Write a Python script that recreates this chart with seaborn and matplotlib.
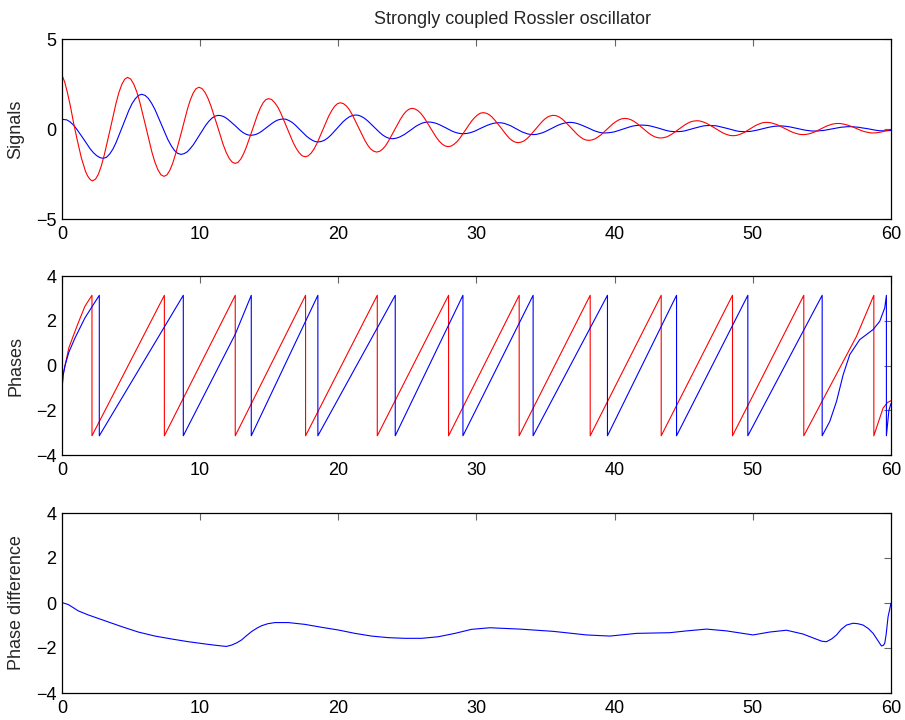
import matplotlib
matplotlib.use("Agg")
import matplotlib.pyplot as plt
import seaborn as sns
import pandas as pd

# ---- signals of the two oscillators (time, amplitude) ----
red_t = [0, 0.2, 0.4, 0.6, 0.85, 1.1, 1.4, 1.7, 1.85, 2.0, 2.12, 2.22,
         2.43, 2.64, 2.85, 3.06, 3.49, 3.91, 4.12, 4.33, 4.54, 4.75,
         4.97, 5.19, 5.41, 5.63, 6.07, 6.50, 6.72, 6.94, 7.16, 7.38,
         7.59, 7.80, 8.01, 8.22, 8.65, 9.07, 9.28, 9.49, 9.70, 9.91,
         10.13, 10.35, 10.57, 10.79, 11.23, 11.66, 11.88, 12.10, 12.32, 12.54,
         12.74, 12.94, 13.14, 13.34, 13.75, 14.15, 14.35, 14.55, 14.75, 14.95,
         15.17, 15.39, 15.62, 15.84, 16.28, 16.72, 16.95, 17.17, 17.39, 17.61,
         17.82, 18.03, 18.25, 18.46, 18.88, 19.30, 19.52, 19.73, 19.94, 20.15,
         20.37, 20.59, 20.81, 21.02, 21.46, 21.90, 22.11, 22.33, 22.55, 22.77,
         22.99, 23.20, 23.42, 23.63, 24.06, 24.49, 24.71, 24.92, 25.14, 25.35,
         25.57, 25.78, 26.00, 26.22, 26.65, 27.08, 27.30, 27.52, 27.73, 27.95,
         28.16, 28.37, 28.59, 28.80, 29.22, 29.64, 29.86, 30.07, 30.28, 30.49,
         30.70, 30.91, 31.12, 31.33, 31.76, 32.18, 32.39, 32.60, 32.81, 33.02,
         33.23, 33.44, 33.65, 33.86, 34.29, 34.71, 34.92, 35.13, 35.34, 35.55,
         35.77, 35.98, 36.20, 36.41, 36.84, 37.27, 37.49, 37.70, 37.92, 38.13,
         38.35, 38.57, 38.78, 39.00, 39.44, 39.87, 40.09, 40.31, 40.52, 40.74,
         40.96, 41.17, 41.39, 41.60, 42.03, 42.46, 42.68, 42.89, 43.11, 43.32,
         43.54, 43.76, 43.97, 44.19, 44.63, 45.06, 45.28, 45.50, 45.71, 45.93,
         46.15, 46.37, 46.59, 46.81, 47.26, 47.70, 47.92, 48.14, 48.36, 48.58,
         48.78, 48.98, 49.18, 49.38, 49.79, 50.19, 50.39, 50.59, 50.79, 50.99,
         51.21, 51.43, 51.65, 51.87, 52.32, 52.76, 52.98, 53.20, 53.42, 53.64,
         53.85, 54.06, 54.27, 54.48, 54.91, 55.33, 55.54, 55.75, 55.96, 56.17,
         56.38, 56.59, 56.80, 57.01, 57.44, 57.86, 58.07, 58.28, 58.49, 58.70,
         58.91, 59.13, 59.34, 59.55, 60.0]
red_v = [3.0, 2.6, 2.0, 1.3, 0.3, -0.6, -1.6, -2.35, -2.6, -2.77, -2.85, -2.88,
         -2.78, -2.50, -2.04, -1.44, -0.01, 1.43, 2.03, 2.48, 2.77, 2.87,
         2.78, 2.50, 2.07, 1.50, 0.12, -1.26, -1.83, -2.26, -2.54, -2.63,
         -2.55, -2.30, -1.91, -1.39, -0.16, 1.08, 1.60, 1.99, 2.24, 2.32,
         2.25, 2.04, 1.70, 1.26, 0.21, -0.85, -1.29, -1.63, -1.84, -1.91,
         -1.85, -1.67, -1.38, -1.01, -0.11, 0.79, 1.16, 1.45, 1.63, 1.69,
         1.64, 1.47, 1.22, 0.88, 0.08, -0.73, -1.07, -1.32, -1.49, -1.54,
         -1.49, -1.34, -1.10, -0.79, -0.04, 0.71, 1.02, 1.26, 1.41, 1.46,
         1.41, 1.28, 1.06, 0.78, 0.09, -0.60, -0.88, -1.10, -1.23, -1.28,
         -1.24, -1.12, -0.93, -0.67, -0.07, 0.54, 0.80, 0.99, 1.11, 1.15,
         1.11, 1.01, 0.84, 0.62, 0.09, -0.45, -0.67, -0.84, -0.94, -0.98,
         -0.95, -0.85, -0.70, -0.51, -0.03, 0.44, 0.63, 0.78, 0.88, 0.91,
         0.88, 0.80, 0.67, 0.49, 0.08, -0.34, -0.52, -0.65, -0.73, -0.76,
         -0.73, -0.66, -0.54, -0.38, 0.0, 0.38, 0.54, 0.66, 0.73, 0.76,
         0.74, 0.67, 0.56, 0.41, 0.07, -0.28, -0.43, -0.54, -0.61, -0.63,
         -0.61, -0.55, -0.45, -0.33, -0.02, 0.29, 0.41, 0.51, 0.57, 0.59,
         0.57, 0.52, 0.43, 0.32, 0.05, -0.23, -0.34, -0.43, -0.48, -0.50,
         -0.48, -0.44, -0.36, -0.26, -0.02, 0.22, 0.32, 0.40, 0.44, 0.46,
         0.45, 0.40, 0.34, 0.25, 0.05, -0.16, -0.25, -0.31, -0.36, -0.37,
         -0.36, -0.32, -0.26, -0.19, 0.0, 0.19, 0.26, 0.32, 0.36, 0.37,
         0.36, 0.32, 0.27, 0.20, 0.03, -0.14, -0.21, -0.26, -0.30, -0.31,
         -0.30, -0.27, -0.22, -0.16, 0.0, 0.16, 0.22, 0.27, 0.30, 0.31,
         0.30, 0.27, 0.23, 0.18, 0.05, -0.09, -0.14, -0.18, -0.21, -0.22,
         -0.21, -0.19, -0.16, -0.11, -0.02]

blue_t = [0, 0.34, 0.58, 0.82, 1.06, 1.55, 2.03, 2.27, 2.51, 2.75, 2.99,
          3.22, 3.45, 3.69, 3.92, 4.38, 4.84, 5.07, 5.31, 5.54, 5.77,
          6.01, 6.24, 6.48, 6.72, 7.19, 7.66, 7.90, 8.14, 8.37, 8.61,
          8.83, 9.06, 9.28, 9.51, 9.96, 10.41, 10.64, 10.86, 11.09, 11.31,
          11.51, 11.71, 11.90, 12.10, 12.50, 12.89, 13.09, 13.29, 13.48, 13.68,
          13.87, 14.07, 14.26, 14.46, 14.85, 15.23, 15.43, 15.62, 15.82, 16.01,
          16.22, 16.43, 16.65, 16.86, 17.28, 17.70, 17.92, 18.13, 18.34, 18.55,
          18.78, 19.00, 19.23, 19.45, 19.90, 20.35, 20.58, 20.80, 21.03, 21.25,
          21.47, 21.69, 21.91, 22.13, 22.58, 23.02, 23.24, 23.46, 23.68, 23.90,
          24.12, 24.33, 24.55, 24.77, 25.20, 25.63, 25.85, 26.07, 26.28, 26.50,
          26.71, 26.92, 27.14, 27.35, 27.77, 28.19, 28.41, 28.62, 28.83, 29.04,
          29.26, 29.47, 29.69, 29.90, 30.33, 30.76, 30.98, 31.19, 31.41, 31.62,
          31.83, 32.03, 32.24, 32.45, 32.86, 33.27, 33.48, 33.69, 33.89, 34.10,
          34.32, 34.54, 34.77, 34.99, 35.43, 35.87, 36.10, 36.32, 36.54, 36.76,
          36.97, 37.18, 37.39, 37.60, 38.03, 38.45, 38.66, 38.87, 39.08, 39.29,
          39.51, 39.73, 39.96, 40.18, 40.62, 41.06, 41.29, 41.51, 41.73, 41.95,
          42.16, 42.37, 42.58, 42.79, 43.22, 43.64, 43.85, 44.06, 44.27, 44.48,
          44.68, 44.88, 45.08, 45.28, 45.69, 46.09, 46.29, 46.49, 46.69, 46.89,
          47.10, 47.31, 47.52, 47.73, 48.16, 48.58, 48.79, 49.00, 49.21, 49.42,
          49.63, 49.84, 50.05, 50.26, 50.69, 51.11, 51.32, 51.53, 51.74, 51.95,
          52.16, 52.37, 52.59, 52.80, 53.22, 53.64, 53.86, 54.07, 54.28, 54.49,
          54.70, 54.91, 55.12, 55.33, 55.76, 56.18, 56.39, 56.60, 56.81, 57.02,
          57.23, 57.44, 57.65, 57.86, 58.29, 58.71, 58.92, 59.13, 59.34, 59.55,
          60.0]
blue_v = [0.54, 0.51, 0.40, 0.23, 0.0, -0.54, -1.09, -1.31, -1.48, -1.59, -1.63,
          -1.57, -1.39, -1.11, -0.74, 0.15, 1.04, 1.41, 1.69, 1.87, 1.93,
          1.87, 1.71, 1.44, 1.10, 0.26, -0.58, -0.92, -1.19, -1.35, -1.41,
          -1.37, -1.27, -1.09, -0.87, -0.33, 0.22, 0.44, 0.61, 0.72, 0.76,
          0.74, 0.69, 0.60, 0.48, 0.21, -0.07, -0.19, -0.28, -0.33, -0.35,
          -0.33, -0.29, -0.22, -0.12, 0.11, 0.33, 0.43, 0.50, 0.54, 0.56,
          0.54, 0.47, 0.37, 0.24, -0.08, -0.40, -0.53, -0.63, -0.70, -0.72,
          -0.69, -0.62, -0.50, -0.35, 0.03, 0.41, 0.56, 0.68, 0.75, 0.78,
          0.76, 0.69, 0.59, 0.45, 0.12, -0.21, -0.35, -0.45, -0.52, -0.54,
          -0.52, -0.48, -0.40, -0.31, -0.08, 0.16, 0.25, 0.33, 0.37, 0.39,
          0.38, 0.35, 0.30, 0.23, 0.07, -0.10, -0.17, -0.22, -0.25, -0.26,
          -0.25, -0.22, -0.17, -0.11, 0.05, 0.20, 0.26, 0.31, 0.34, 0.35,
          0.34, 0.31, 0.25, 0.19, 0.02, -0.15, -0.21, -0.27, -0.30, -0.31,
          -0.30, -0.26, -0.21, -0.14, 0.03, 0.20, 0.27, 0.32, 0.36, 0.37,
          0.36, 0.33, 0.28, 0.22, 0.08, -0.07, -0.13, -0.18, -0.21, -0.22,
          -0.21, -0.19, -0.16, -0.11, 0.0, 0.11, 0.16, 0.19, 0.21, 0.22,
          0.21, 0.20, 0.17, 0.13, 0.04, -0.06, -0.10, -0.13, -0.14, -0.15,
          -0.14, -0.13, -0.10, -0.06, 0.03, 0.11, 0.15, 0.18, 0.19, 0.20,
          0.19, 0.18, 0.15, 0.11, 0.03, -0.06, -0.10, -0.13, -0.14, -0.15,
          -0.14, -0.13, -0.10, -0.07, 0.01, 0.09, 0.12, 0.15, 0.16, 0.17,
          0.17, 0.15, 0.13, 0.10, 0.03, -0.04, -0.07, -0.09, -0.11, -0.11,
          -0.11, -0.09, -0.08, -0.05, 0.01, 0.07, 0.10, 0.11, 0.13, 0.13,
          0.13, 0.11, 0.10, 0.07, 0.02, -0.04, -0.07, -0.09, -0.10, -0.10,
          -0.08]

# ---- wrapped phases (radians) ----
red_phase_t = [0, 0.08, 0.22, 0.5, 0.94, 1.3, 1.66, 2.17,
               2.17, 7.41, 7.41, 12.54, 12.54, 17.63, 17.63, 22.82,
               22.82, 27.98, 27.98, 33.09, 33.09, 38.23, 38.23, 43.37,
               43.37, 48.53, 48.53, 53.69, 53.69, 57.5, 58.76,
               58.76, 59.05, 59.43, 59.75, 60.0]
red_phase_v = [-1.0, -0.4, 0.0, 0.8, 1.53, 2.1, 2.65, 3.14,
               -3.14, 3.14, -3.14, 3.14, -3.14, 3.14, -3.14, 3.14,
               -3.14, 3.14, -3.14, 3.14, -3.14, 3.14, -3.14, 3.14,
               -3.14, 3.14, -3.14, 3.14, -3.14, 1.3, 3.14,
               -3.14, -2.6, -1.9, -1.65, -1.57]

blue_phase_t = [0, 0.08, 0.22, 0.5, 0.94, 1.66, 2.70,
                2.70, 8.78, 8.78, 12.54, 13.70, 13.70, 18.52,
                18.52, 24.12, 24.12, 29.02, 29.02, 34.10, 34.10, 39.48,
                39.48, 44.48, 44.48, 49.64, 49.64, 55.02,
                55.02, 55.57, 56.06, 56.54, 57.02, 57.74, 58.71, 59.19, 59.55, 59.67,
                59.67, 59.85, 60.0]
blue_phase_v = [-1.1, -0.45, 0.0, 0.6, 1.23, 2.13, 3.14,
                -3.14, 3.14, -3.14, 1.4, 3.14, -3.14, 3.14,
                -3.14, 3.14, -3.14, 3.14, -3.14, 3.14, -3.14, 3.14,
                -3.14, 3.14, -3.14, 3.14, -3.14, 3.14,
                -3.14, -2.50, -1.60, -0.41, 0.49, 1.16, 1.61, 1.98, 2.58, 3.14,
                -3.14, -2.0, -1.7]

# ---- phase difference ----
pd_t = [0, 0.46, 1.18, 1.9, 3.11, 4.32, 5.52, 6.73, 7.94, 9.14, 10.35, 11.0, 11.56,
        11.9, 12.28, 12.65, 13.0, 13.36, 13.72, 14.1, 14.45, 14.9, 15.41, 16.38,
        17.58, 18.79, 20.0, 21.2, 22.41, 23.61, 24.82, 26.03, 27.23, 28.44, 29.65,
        30.97, 33.14, 35.55, 37.97, 39.65, 41.58, 43.99, 45.2, 46.65, 48.1, 50.02,
        51.23, 52.44, 53.64, 54.61, 55.0, 55.33, 55.7, 56.06, 56.4, 56.78, 57.26,
        57.6, 57.98, 58.35, 58.71, 59.0, 59.31, 59.45, 59.55, 59.65, 59.79, 59.9, 60.0]
pd_v = [0.02, -0.07, -0.35, -0.53, -0.79, -1.05, -1.29, -1.47, -1.60, -1.72, -1.82, -1.87, -1.91,
        -1.93, -1.87, -1.77, -1.64, -1.45, -1.27, -1.12, -1.01, -0.92, -0.87, -0.87,
        -0.95, -1.08, -1.2, -1.35, -1.47, -1.54, -1.57, -1.57, -1.50, -1.35, -1.17,
        -1.10, -1.16, -1.26, -1.42, -1.47, -1.35, -1.32, -1.24, -1.16, -1.24, -1.42,
        -1.29, -1.21, -1.38, -1.61, -1.70, -1.72, -1.60, -1.42, -1.17, -0.98, -0.90,
        -0.92, -0.98, -1.13, -1.35, -1.62, -1.91, -1.88, -1.79, -1.40, -0.61, -0.30, -0.01]

x_ticks = [0, 10, 20, 30, 40, 50, 60]
RED = (1.0, 0.0, 0.0)
BLUE = (0.0, 0.0, 1.0)
LW = 0.8

sns.set_theme(style="white")
plt.rcParams.update({
    "font.family": ["Liberation Sans", "DejaVu Sans"],
    "font.size": 13,
    "axes.edgecolor": "black",
    "axes.linewidth": 0.9,
    "xtick.direction": "in",
    "ytick.direction": "in",
    "xtick.top": True,
    "ytick.right": True,
    "xtick.major.size": 5,
    "ytick.major.size": 5,
    "xtick.major.width": 0.8,
    "ytick.major.width": 0.8,
    "xtick.color": "0.4",
    "ytick.color": "0.4",
    "xtick.labelcolor": "black",
    "ytick.labelcolor": "black",
    "xtick.labelsize": 13,
    "ytick.labelsize": 13,
    "xtick.major.pad": 5,
    "ytick.major.pad": 4,
})

fig = plt.figure(figsize=(9.05, 7.2), dpi=100)
ax1 = fig.add_axes([0.0685, 0.6958, 0.916, 0.25])
ax2 = fig.add_axes([0.0685, 0.368, 0.916, 0.2486])
ax3 = fig.add_axes([0.0685, 0.0375, 0.916, 0.25])

sig_r = pd.DataFrame({"t": red_t, "v": red_v})
sig_b = pd.DataFrame({"t": blue_t, "v": blue_v})
sns.lineplot(data=sig_b, x="t", y="v", ax=ax1, color=BLUE, lw=LW, estimator=None, sort=False)
sns.lineplot(data=sig_r, x="t", y="v", ax=ax1, color=RED, lw=LW, estimator=None, sort=False)

ph_r = pd.DataFrame({"t": red_phase_t, "v": red_phase_v})
ph_b = pd.DataFrame({"t": blue_phase_t, "v": blue_phase_v})
sns.lineplot(data=ph_r, x="t", y="v", ax=ax2, color=RED, lw=LW, estimator=None, sort=False)
sns.lineplot(data=ph_b, x="t", y="v", ax=ax2, color=BLUE, lw=LW, estimator=None, sort=False)

dif = pd.DataFrame({"t": pd_t, "v": pd_v})
sns.lineplot(data=dif, x="t", y="v", ax=ax3, color=BLUE, lw=LW, estimator=None, sort=False)

settings = [
    (ax1, (-5, 5), [-5, 0, 5], "Signals"),
    (ax2, (-4, 4), [-4, -2, 0, 2, 4], "Phases"),
    (ax3, (-4, 4), [-4, -2, 0, 2, 4], "Phase difference"),
]
for ax, ylim, yt, lab in settings:
    ax.set_xlim(0, 60)
    ax.set_ylim(*ylim)
    ax.set_xticks(x_ticks)
    ax.set_yticks(yt)
    ax.set_xlabel("")
    ax.set_ylabel(lab, fontsize=13)
    ax.yaxis.set_label_coords(-0.045, 0.5)
    for s in ax.spines.values():
        s.set_visible(True)
        s.set_color("black")

fig.text(512 / 905, 1 - 23.5 / 720, "Strongly coupled Rossler oscillator",
         ha="center", va="baseline", fontsize=13)

fig.savefig("out.png", dpi=100, facecolor="white")
